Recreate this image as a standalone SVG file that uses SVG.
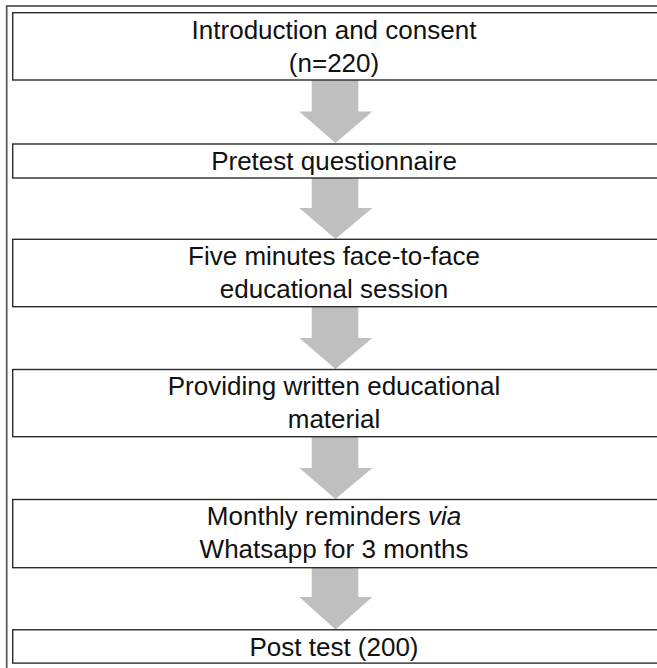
<svg xmlns="http://www.w3.org/2000/svg" width="657" height="668" viewBox="0 0 657 668">
<style>
.frame{fill:none;stroke:#5a5a5a;stroke-width:1.8}
.box{fill:#ffffff;stroke:#2b2b2b;stroke-width:1.4}
.lbl{font-family:"Liberation Sans",Arial,sans-serif;font-size:26px;fill:#111111;text-anchor:middle}
.arrow{fill:#bfbfbf;stroke:none}
</style>
<rect width="657" height="668" fill="#ffffff"/>
<rect class="frame" x="6.7" y="6" width="700" height="700"/>
<g id="connectors">
  <polygon class="arrow" points="311.7,80 358.3,80 358.3,111.5 372.3,111.5 335.5,143 299.3,111.5 311.7,111.5"/>
  <polygon class="arrow" points="311.7,178 358.3,178 358.3,208 372.3,208 335.5,239 299.3,208 311.7,208"/>
  <polygon class="arrow" points="311.7,307 358.3,307 358.3,338 372.3,338 335.5,369 299.3,338 311.7,338"/>
  <polygon class="arrow" points="311.7,437 358.3,437 358.3,468 372.3,468 335.5,499 299.3,468 311.7,468"/>
  <polygon class="arrow" points="311.7,568 358.3,568 358.3,597 372.3,597 335.5,629.5 299.3,597 311.7,597"/>
</g>
<g id="node1">
  <rect class="box" x="12.7" y="12.7" width="660" height="67.3"/>
  <text class="lbl" x="334" y="38.5">Introduction and consent</text>
  <text class="lbl" x="334" y="71.5">(n=220)</text>
</g>
<g id="node2">
  <rect class="box" x="12.7" y="144" width="660" height="34"/>
  <text class="lbl" x="334" y="170">Pretest questionnaire</text>
</g>
<g id="node3">
  <rect class="box" x="12.7" y="239.3" width="660" height="67.4"/>
  <text class="lbl" x="334" y="264.5">Five minutes face-to-face</text>
  <text class="lbl" x="334" y="297.5">educational session</text>
</g>
<g id="node4">
  <rect class="box" x="12.7" y="369.5" width="660" height="67.2"/>
  <text class="lbl" x="334" y="394.5">Providing written educational</text>
  <text class="lbl" x="334" y="427.5">material</text>
</g>
<g id="node5">
  <rect class="box" x="12.7" y="499.5" width="660" height="68.2"/>
  <text class="lbl" x="334" y="525">Monthly reminders <tspan font-style="italic">via</tspan></text>
  <text class="lbl" x="334" y="558">Whatsapp for 3 months</text>
</g>
<g id="node6">
  <rect class="box" x="12.7" y="629.8" width="660" height="33.3"/>
  <text class="lbl" x="334" y="655.5">Post test (200)</text>
</g>
</svg>
